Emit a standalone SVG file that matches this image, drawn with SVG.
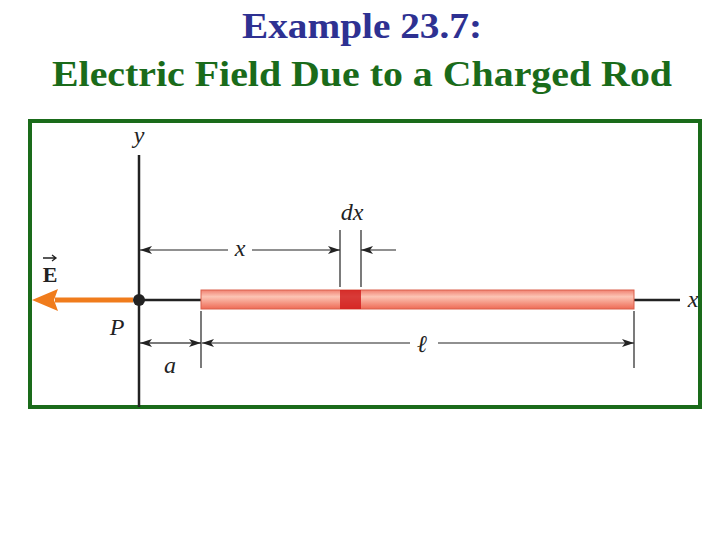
<svg xmlns="http://www.w3.org/2000/svg" width="720" height="540" viewBox="0 0 720 540">
<defs>
<style>
.t{font-family:"Liberation Serif",serif;fill:#2e3192;font-size:36px;font-weight:bold}
.t2{fill:#1a6b1a}
.l{font-family:"Liberation Serif",serif;font-style:italic;font-size:24px;fill:#222}
.dim{stroke:#222;stroke-width:1.2;fill:none}
</style>
<marker id="ah" markerWidth="12" markerHeight="8" refX="12" refY="4" orient="auto" markerUnits="userSpaceOnUse"><path d="M0,0 L12,4 L0,8 L3,4 Z" fill="#222"/></marker>
<linearGradient id="rod" x1="0" y1="0" x2="0" y2="1"><stop offset="0" stop-color="#f08070"/><stop offset="0.35" stop-color="#fcc4b4"/><stop offset="1" stop-color="#ee6a55"/></linearGradient>
</defs>
<rect width="720" height="540" fill="#fff"/>
<text x="362" y="38" text-anchor="middle" class="t" textLength="240" lengthAdjust="spacingAndGlyphs">Example 23.7:</text>
<text x="362" y="86" text-anchor="middle" class="t t2" textLength="620" lengthAdjust="spacingAndGlyphs">Electric Field Due to a Charged Rod</text>
<rect x="30" y="121" width="670" height="286" fill="#fff" stroke="#1a6b1a" stroke-width="4"/>
<g id="axes">
<line x1="139" y1="155" x2="139" y2="407" stroke="#222" stroke-width="2.5"/>
<line x1="139" y1="300" x2="680" y2="300" stroke="#222" stroke-width="2.5"/>
<text class="l" x="139" y="143" text-anchor="middle">y</text>
<text class="l" x="693" y="307" text-anchor="middle">x</text>
</g>
<g id="rod">
<rect x="201" y="290" width="433" height="19" fill="url(#rod)" stroke="#d9604c" stroke-width="1"/>
<rect x="340" y="290" width="21" height="19" fill="#d01818" opacity="0.8"/>
</g>
<g id="P">
<circle cx="139" cy="300" r="6" fill="#222"/>
<text class="l" x="117" y="335" text-anchor="middle" font-size="25">P</text>
</g>
<g id="E">
<line x1="133" y1="300" x2="55" y2="300" stroke="#f07c1c" stroke-width="5"/>
<path d="M32,300 L58,289 L54,300 L58,311 Z" fill="#f07c1c"/>
<text x="50" y="282" text-anchor="middle" font-family="Liberation Serif,serif" font-weight="bold" font-size="22" fill="#222">E</text>
<path d="M43,258 L56,258 M52,255 L56,258 L52,261" stroke="#222" stroke-width="1.3" fill="none"/>
</g>
<g id="connectors">
<line class="dim" x1="340" y1="230" x2="340" y2="287"/>
<line class="dim" x1="361" y1="230" x2="361" y2="287"/>
<line class="dim" x1="201" y1="311" x2="201" y2="368"/>
<line class="dim" x1="634" y1="311" x2="634" y2="368"/>
<line class="dim" x1="228" y1="250" x2="140" y2="250" marker-end="url(#ah)"/>
<line class="dim" x1="252" y1="250" x2="340" y2="250" marker-end="url(#ah)"/>
<line class="dim" x1="396" y1="250" x2="361" y2="250" marker-end="url(#ah)"/>
<line class="dim" x1="170" y1="343" x2="140" y2="343" marker-end="url(#ah)"/>
<line class="dim" x1="170" y1="343" x2="201" y2="343" marker-end="url(#ah)"/>
<line class="dim" x1="410" y1="343" x2="202" y2="343" marker-end="url(#ah)"/>
<line class="dim" x1="438" y1="343" x2="634" y2="343" marker-end="url(#ah)"/>
</g>
<g id="labels">
<text class="l" x="240" y="256" text-anchor="middle">x</text>
<text class="l" x="352" y="220" text-anchor="middle">dx</text>
<text class="l" x="170" y="373" text-anchor="middle">a</text>
<text class="l" x="422" y="352" text-anchor="middle">ℓ</text>
</g>
</svg>
